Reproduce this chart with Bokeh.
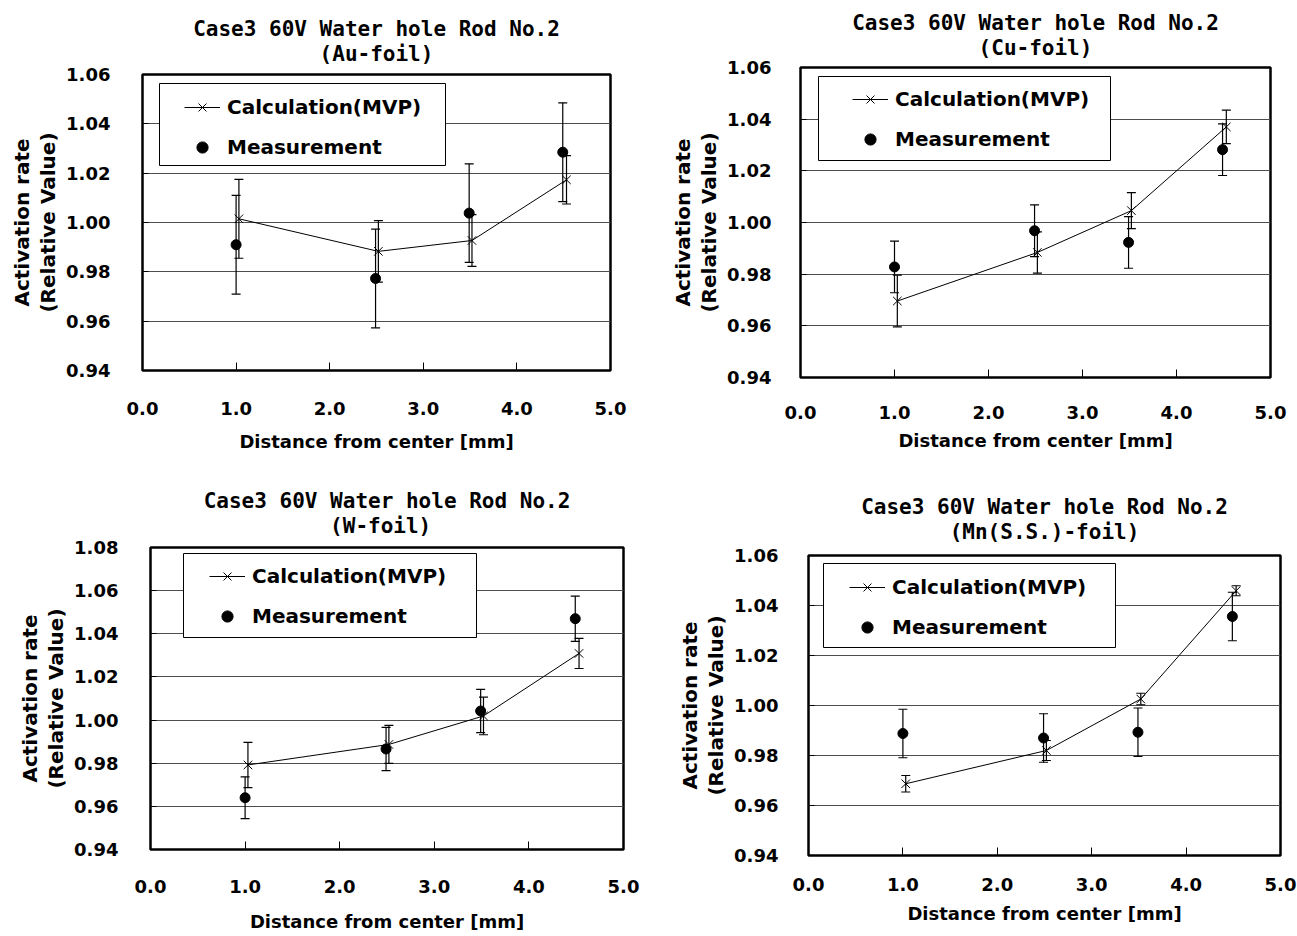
from bokeh.plotting import figure
from bokeh.models import (Title, Legend, LegendItem, Whisker, ColumnDataSource, FixedTicker,
                          NumeralTickFormatter, LinearAxis, BoxAnnotation, TeeHead)
from bokeh.layouts import column, row
from bokeh.embed import file_html
from bokeh.resources import INLINE

FONT = "DejaVu Sans"
TITLE_FONT = "DejaVu Sans Mono"

# ---------------- data ----------------
title_main = "Case3 60V Water hole Rod No.2"
foils = ["(Au-foil)", "(Cu-foil)", "(W-foil)", "(Mn(S.S.)-foil)"]
x_label = "Distance from center [mm]"
y_label_1 = "Activation rate"
y_label_2 = "(Relative Value)"
legend_calc = "Calculation(MVP)"
legend_meas = "Measurement"

x_ticks = [0.0, 1.0, 2.0, 3.0, 4.0, 5.0]
y_ticks_std = [0.94, 0.96, 0.98, 1.00, 1.02, 1.04, 1.06]
y_ticks_w = [0.94, 0.96, 0.98, 1.00, 1.02, 1.04, 1.06, 1.08]

x_meas = [1.0, 2.49, 3.49, 4.49]
x_calc = [1.03, 2.52, 3.52, 4.53]

au_calc = [1.0015, 0.9883, 0.9927, 1.0173]
au_calc_err = [0.016, 0.0125, 0.0105, 0.0098]
au_meas = [0.9910, 0.9773, 1.0038, 1.0285]
au_meas_err = [0.020, 0.020, 0.020, 0.020]

cu_calc = [0.9696, 0.9884, 1.0046, 1.0370]
cu_calc_err = [0.0100, 0.0080, 0.0070, 0.0065]
cu_meas = [0.9828, 0.9968, 0.9923, 1.0282]
cu_meas_err = [0.010, 0.010, 0.010, 0.010]

w_calc = [0.9792, 0.9887, 1.0019, 1.0309]
w_calc_err = [0.0105, 0.0088, 0.0087, 0.0070]
w_meas = [0.9640, 0.9866, 1.0042, 1.0470]
w_meas_err = [0.0097, 0.010, 0.010, 0.0105]

mn_calc = [0.9687, 0.9820, 1.0026, 1.0459]
mn_calc_err = [0.0033, 0.0040, 0.0023, 0.0020]
mn_meas = [0.9888, 0.9870, 0.9893, 1.0356]
mn_meas_err = [0.0097, 0.0097, 0.0097, 0.0097]

# ---------------- layout / style ----------------
geo = [
    dict(fw=468, fh=296, bl=142, br=50, bt=74, bb=100, ysd=32, xsd=31, xls=13, ts=17,
         box=(17, 303, 205, 287), leg=(42, 209)),
    dict(fw=470, fh=310, bl=140, br=27, bt=67, bb=93, ysd=29, xsd=28, xls=8, ts=15,
         box=(18, 310, 217, 301), leg=(52, 224)),
    dict(fw=473, fh=302, bl=150, br=37, bt=77, bb=87, ysd=32, xsd=30, xls=15, ts=19,
         box=(33, 326, 212, 296), leg=(59, 219)),
    dict(fw=472, fh=300, bl=148, br=17, bt=85, bb=81, ysd=30, xsd=22, xls=9, ts=23,
         box=(15, 307, 208, 292), leg=(41, 214)),
]


def whisker(src, width=1.2):
    return Whisker(source=src, base="x", upper="upper", lower="lower",
                   line_color="black", line_width=width,
                   upper_head=TeeHead(size=9, line_color="black", line_width=width),
                   lower_head=TeeHead(size=9, line_color="black", line_width=width))


def two_line_title(foil):
    # monospace font + no-break spaces so that the second line sits centred
    pad = (len(title_main) - len(foil)) // 2
    return title_main + "\n" + "\u00a0" * pad + foil


def panel(foil, yt, calc, calc_err, meas, meas_err, g):
    p = figure(frame_width=g["fw"], frame_height=g["fh"],
               x_range=(x_ticks[0], x_ticks[-1]), y_range=(yt[0], yt[-1]),
               output_backend="svg", toolbar_location=None, title=None,
               min_border_left=g["bl"], min_border_right=g["br"],
               min_border_top=g["bt"], min_border_bottom=g["bb"],
               background_fill_color="white", border_fill_color="white")
    p.frame_align = False
    p.outline_line_color = "black"
    p.outline_line_width = 2.5
    p.outline_line_alpha = 1.0

    p.add_layout(Title(text=two_line_title(foil), align="center", text_font=TITLE_FONT,
                       text_font_size="21px", text_font_style="bold", text_color="black",
                       text_line_height=1.03, standoff=g["ts"]), "above")

    # x axis
    xa = p.xaxis[0]
    xa.ticker = FixedTicker(ticks=x_ticks)
    xa.formatter = NumeralTickFormatter(format="0.0")
    xa.axis_line_color = None
    xa.major_tick_in = 8
    xa.major_tick_out = 0
    xa.minor_tick_line_color = None
    xa.major_tick_line_color = "black"
    xa.major_label_standoff = g["xsd"]
    xa.major_label_text_font = FONT
    xa.major_label_text_font_size = "18px"
    xa.major_label_text_font_style = "bold"
    xa.major_label_text_color = "black"
    xa.axis_label = x_label
    xa.axis_label_standoff = g["xls"]
    xa.axis_label_text_font = FONT
    xa.axis_label_text_font_size = "18px"
    xa.axis_label_text_font_style = "bold"
    xa.axis_label_text_color = "black"

    # y axis
    ya = p.yaxis[0]
    ya.ticker = FixedTicker(ticks=yt)
    ya.formatter = NumeralTickFormatter(format="0.00")
    ya.axis_line_color = None
    ya.major_tick_in = 6
    ya.major_tick_out = 0
    ya.minor_tick_line_color = None
    ya.major_tick_line_color = "black"
    ya.major_label_standoff = g["ysd"]
    ya.major_label_text_font = FONT
    ya.major_label_text_font_size = "18px"
    ya.major_label_text_font_style = "bold"
    ya.major_label_text_color = "black"
    ya.axis_label = y_label_2
    ya.axis_label_standoff = 3
    ya.axis_label_text_font = FONT
    ya.axis_label_text_font_size = "20px"
    ya.axis_label_text_font_style = "bold"
    ya.axis_label_text_color = "black"

    ya2 = LinearAxis(ticker=FixedTicker(ticks=[]), axis_label=y_label_1,
                     axis_line_color=None, major_tick_in=0, major_tick_out=0,
                     minor_tick_line_color=None, major_label_standoff=0,
                     major_label_text_font_size="0px",
                     axis_label_standoff=0, axis_label_text_font=FONT,
                     axis_label_text_font_size="20px", axis_label_text_font_style="bold",
                     axis_label_text_color="black")
    p.add_layout(ya2, "left")

    p.xgrid.grid_line_color = None
    p.ygrid.ticker = FixedTicker(ticks=yt)
    p.ygrid.grid_line_color = "#4d4d4d"
    p.ygrid.grid_line_width = 1

    cs = ColumnDataSource(dict(x=x_calc, y=calc,
                               upper=[v + e for v, e in zip(calc, calc_err)],
                               lower=[v - e for v, e in zip(calc, calc_err)]))
    ms = ColumnDataSource(dict(x=x_meas, y=meas,
                               upper=[v + e for v, e in zip(meas, meas_err)],
                               lower=[v - e for v, e in zip(meas, meas_err)]))
    p.add_layout(whisker(ms))
    p.add_layout(whisker(cs))

    r_line = p.line("x", "y", source=cs, line_color="black", line_width=1)
    r_x = p.scatter("x", "y", source=cs, marker="x", size=12, line_color="black", line_width=1)
    r_dot = p.scatter("x", "y", source=ms, marker="circle", size=10,
                      fill_color="black", line_color="black")

    l, r, b, t = g["box"]
    box = BoxAnnotation(left=l, right=r, bottom=b, top=t,
                        left_units="screen", right_units="screen",
                        bottom_units="screen", top_units="screen",
                        fill_color="white", fill_alpha=1.0,
                        line_color="black", line_width=1, line_alpha=1.0)
    p.add_layout(box)

    legend = Legend(items=[LegendItem(label=legend_calc, renderers=[r_line, r_x]),
                           LegendItem(label=legend_meas, renderers=[r_dot])],
                    location=g["leg"], padding=0, margin=0, spacing=12,
                    glyph_width=36, glyph_height=28, label_height=28, label_standoff=7,
                    border_line_color=None, background_fill_alpha=0.0,
                    label_text_font=FONT, label_text_font_size="20px",
                    label_text_font_style="bold", label_text_color="black")
    p.add_layout(legend)
    return p


p1 = panel(foils[0], y_ticks_std, au_calc, au_calc_err, au_meas, au_meas_err, geo[0])
p2 = panel(foils[1], y_ticks_std, cu_calc, cu_calc_err, cu_meas, cu_meas_err, geo[1])
p3 = panel(foils[2], y_ticks_w, w_calc, w_calc_err, w_meas, w_meas_err, geo[2])
p4 = panel(foils[3], y_ticks_std, mn_calc, mn_calc_err, mn_meas, mn_meas_err, geo[3])

layout = column(row(p1, p2, spacing=0), row(p3, p4, spacing=0), spacing=0)

open("out.html", "w").write(file_html(layout, INLINE))
